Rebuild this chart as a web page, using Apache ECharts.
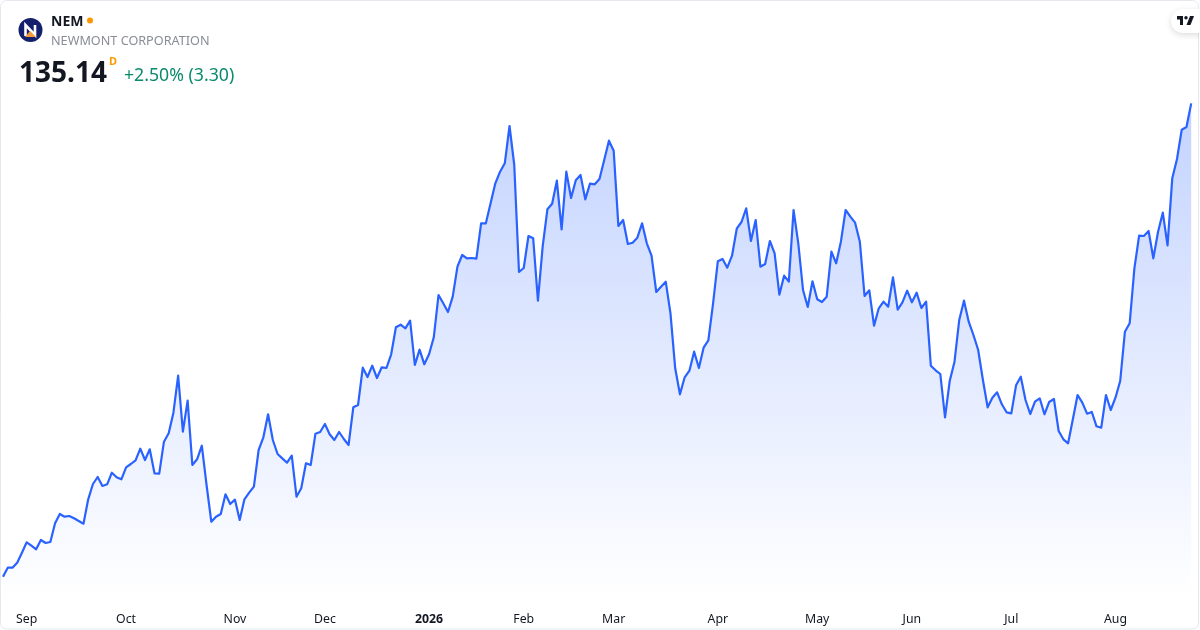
<!DOCTYPE html>
<html><head><meta charset="utf-8">
<style>html,body{margin:0;padding:0;background:#fff}#c{width:1200px;height:630px}</style>
<script src="https://cdn.jsdelivr.net/npm/echarts@6/dist/echarts.min.js"></script>
</head><body><div id="c"></div>
<script>
const closes = [
59.41,60.85,60.85,61.65,63.25,64.91,64.37,63.79,65.28,64.80,64.96,67.95,69.44,69.01,69.12,68.75,68.32,67.89,71.79,74.24,
75.36,73.92,74.19,76.05,75.31,74.99,76.91,77.44,78.03,79.89,78.08,79.79,75.95,75.89,81.01,82.35,85.65,91.57,82.61,87.57,
77.28,78.19,80.37,74.08,68.21,69.01,69.44,72.59,71.04,71.73,68.48,71.79,72.85,73.81,79.68,81.71,85.39,81.28,79.04,78.35,
77.65,78.77,72.21,73.55,77.55,77.28,82.29,82.56,83.84,82.19,81.28,82.56,81.44,80.48,86.51,86.88,92.85,91.36,93.17,91.20,
92.91,92.80,94.99,99.31,99.73,99.15,100.37,93.28,95.73,93.39,94.99,97.71,104.48,103.15,101.76,104.21,109.01,110.88,110.35,110.40,
110.29,115.95,115.95,119.15,122.35,124.21,125.55,131.52,125.28,108.16,108.80,113.92,113.55,103.57,112.21,118.19,119.09,122.77,114.99,124.21,
120.00,122.83,123.68,119.79,122.29,122.19,123.04,126.08,129.17,127.57,115.52,116.48,112.64,112.85,113.65,115.95,112.75,110.77,104.96,105.81,
106.61,101.55,92.75,88.59,91.31,92.37,95.41,92.80,96.05,97.23,103.15,109.87,110.24,108.85,110.77,115.09,116.16,118.35,113.12,116.48,
109.01,109.44,113.12,111.15,104.53,107.57,106.61,118.08,112.75,105.28,102.56,106.67,103.79,103.36,104.21,111.41,109.55,113.01,118.08,117.01,
116.05,113.01,104.32,105.23,99.57,102.35,103.41,102.61,107.31,102.13,103.31,105.17,103.31,104.85,102.40,103.41,93.17,92.43,91.84,84.91,
90.77,93.81,100.48,103.57,100.21,98.08,95.68,90.88,86.51,88.05,88.91,86.99,85.71,85.55,90.03,91.41,87.68,85.44,87.41,87.95,
85.39,87.36,87.84,82.72,81.39,80.75,84.59,88.48,87.25,85.49,85.76,83.47,83.25,88.48,86.08,88.05,90.72,98.61,99.95,108.75,
113.97,113.92,114.72,110.35,114.61,117.65,112.43,123.15,126.24,130.93,131.36,135.14];
const monthStarts = [5,26,49,68,90,110,129,151,172,192,213,235];
const monthLabels = ['Sep','Oct','Nov','Dec','2026','Feb','Mar','Apr','May','Jun','Jul','Aug'];
const ticker = 'NEM', company = 'NEWMONT CORPORATION', lastPrice = '135.14', changeText = '+2.50% (3.30)';

const categories = closes.map((_, i) => {
  const k = monthStarts.indexOf(i);
  return k >= 0 ? monthLabels[k] : '';
});
const FONT = '"Noto Sans", sans-serif';
const chart = echarts.init(document.getElementById('c'), null, {renderer:'canvas'});
chart.setOption({
  animation:false,
  backgroundColor:'#ffffff',
  grid:{left:3,top:98,width:1188.2,height:500,containLabel:false},
  xAxis:{type:'category',boundaryGap:false,data:categories,
    axisLine:{show:false},axisTick:{show:false},splitLine:{show:false},
    axisLabel:{interval:(i,v)=>v!=='',hideOverlap:false,margin:15,color:'#131722',fontSize:12.3,fontFamily:FONT,
      formatter:v=>v==='2026'?'{b|2026}':v,
      rich:{b:{fontWeight:'bold',fontSize:12.3,color:'#131722',fontFamily:FONT}}}},
  yAxis:{type:'value',min:56,max:136,show:false,splitLine:{show:false}},
  series:[{type:'line',data:closes,symbol:'none',smooth:false,
    lineStyle:{color:'#2962ff',width:2.2,join:'round'},
    areaStyle:{origin:'start',opacity:1,color:new echarts.graphic.LinearGradient(0,0,0,1,[
      {offset:0,color:'rgba(41,98,255,0.28)'},{offset:1,color:'rgba(41,98,255,0)'}])}}],
  graphic:[
    {type:'rect',z:100,shape:{x:0.5,y:0.5,width:1198,height:628.5,r:6},style:{fill:'none',stroke:'#e6e8ee',lineWidth:1}},
    {type:'circle',z:101,shape:{cx:30.5,cy:30,r:12},style:{fill:'#14206b'}},
    {type:'polyline',z:102,shape:{points:[[25.5,36],[25.5,25],[35,35],[35,25]]},style:{fill:'none',stroke:'#ffffff',lineWidth:2.6}},
    {type:'polygon',z:103,shape:{points:[[25,37],[30,31],[36,37]]},style:{fill:'#f39a3c'}},
    {type:'text',z:101,x:51,y:22.5,style:{text:ticker,font:'bold 14px '+FONT,fill:'#131722',verticalAlign:'middle'}},
    {type:'circle',z:101,shape:{cx:90,cy:20.5,r:3},style:{fill:'#ff9800'}},
    {type:'text',z:101,x:51,y:41.5,style:{text:company,font:'12.65px '+FONT,fill:'#8a8d97',verticalAlign:'middle'}},
    {type:'text',z:101,x:19,y:74,style:{text:lastPrice,font:'bold 28px '+FONT,fill:'#131722',verticalAlign:'middle'}},
    {type:'text',z:101,x:109,y:61.5,style:{text:'D',font:'bold 11px '+FONT,fill:'#ff9800',verticalAlign:'middle'}},
    {type:'text',z:101,x:124,y:75.5,style:{text:changeText,font:'17.7px '+FONT,fill:'#0b8a6e',verticalAlign:'middle'}},
    {type:'rect',z:104,shape:{x:1171,y:9,width:40,height:24,r:12},
      style:{fill:'#ffffff',shadowBlur:6,shadowColor:'rgba(0,0,0,0.14)',shadowOffsetY:2}},
    {type:'rect',z:105,shape:{x:1199,y:0,width:1,height:630},style:{fill:'#ffffff'}},
    {type:'polygon',z:106,shape:{points:[[1177,16],[1183,16],[1183,25],[1180,25],[1180,19.5],[1177,19.5]]},style:{fill:'#131722'}},
    {type:'polygon',z:106,shape:{points:[[1186.5,25],[1190,16],[1194,16],[1190.5,25]]},style:{fill:'#131722'}},
    {type:'circle',z:106,shape:{cx:1186,cy:17.8,r:1.7},style:{fill:'#131722'}}
  ]
});
</script></body></html>
